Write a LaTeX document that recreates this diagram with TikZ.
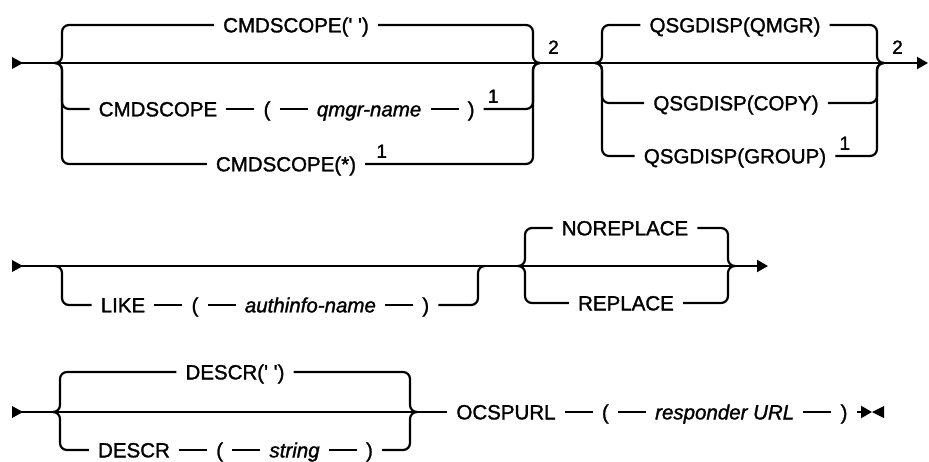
\documentclass[tikz,border=0pt]{standalone}
\usepackage{fontspec}
\setmainfont{Liberation Sans}
\newfontfamily\railfont{Liberation Sans}[UprightFeatures={FakeBold=1.4},ItalicFeatures={FakeBold=1.4}]
\usetikzlibrary{arrows.meta,positioning}
\newcommand\kwfont{\railfont\fontsize{20.5}{23}\selectfont}
\newcommand\notefont{\railfont\fontsize{19}{21}\selectfont}
\newcommand\blankq{(\textquotesingle\ \textquotesingle)}
\tikzset{
  rail/.style={line width=2.2pt,rounded corners=7pt},
  railend/.style={line width=2.2pt,-{Triangle[length=11pt,width=12pt]}},
  kw/.style={font=\kwfont,text height=14.7pt,text depth=0pt,inner ysep=0pt,inner xsep=9pt},
  var/.style={kw,font=\kwfont\itshape},
  note/.style={font=\notefont,inner sep=1pt,anchor=south west},
  pics/railstart/.style={code={\fill (0,-6) -- (11,0) -- (0,6) -- cycle;}},
  pics/railstop/.style={code={\fill (0,0) -- (12,-6) -- (12,6) -- cycle;}},
}

\begin{document}
\begin{tikzpicture}[x=1pt,y=-1pt,node distance=28pt]
  \useasboundingbox (0,0) rectangle (929,461);

  % row 1: CMDSCOPE and QSGDISP
  \coordinate (r1s) at (12,63);
  \coordinate (r1a) at (62,63);
  \coordinate (r1b) at (533,63);
  \coordinate (r1c) at (602,63);
  \coordinate (r1d) at (877,63);
  \coordinate (r1e) at (928,63);
  \pic at (r1s) {railstart};
  \draw[railend] (r1s) -- (r1e);

  \node[kw] (cs1) at (296,25) {CMDSCOPE\blankq};
  \node[kw] (cs2) at (158,109) {CMDSCOPE};
  \node[kw,right=of cs2] (lp1) {(};
  \node[var,right=of lp1] (qmn) {qmgr-name};
  \node[kw,right=of qmn] (rp1) {)};
  \node[kw] (cs3) at (286,164) {CMDSCOPE(*)};
  \node[note] (n1a) at ([xshift=3pt,yshift=5pt]rp1.east) {1};
  \node[note] (n1b) at ([xshift=10pt,yshift=5pt]cs3.east) {1};
  \node[note] (n2a) at ([xshift=14pt,yshift=8pt]r1b) {2};

  \draw[rail] ([xshift=-7pt]r1a) -- (r1a) |- (cs1.west);
  \draw[rail] ([xshift=-7pt]r1a) -- (r1a) |- (cs2.west);
  \draw[rail] ([xshift=-7pt]r1a) -- (r1a) |- (cs3.west);
  \draw[rail] (cs2) -- (lp1) -- (qmn) -- (rp1);
  \draw[rail] (cs1.east) -| (r1b) -- ([xshift=7pt]r1b);
  \draw[rail] (rp1.east) -| (r1b) -- ([xshift=7pt]r1b);
  \draw[rail] (cs3.east) -| (r1b) -- ([xshift=7pt]r1b);

  \node[kw] (qs1) at (735,25) {QSGDISP(QMGR)};
  \node[kw] (qs2) at (736,103) {QSGDISP(COPY)};
  \node[kw] (qs3) at (735,156) {QSGDISP(GROUP)};
  \node[note] (n1c) at ([xshift=3pt,yshift=5pt]qs3.east) {1};
  \node[note] (n2b) at ([xshift=14pt,yshift=8pt]r1d) {2};

  \foreach \q in {qs1,qs2,qs3}{
    \draw[rail] ([xshift=-7pt]r1c) -- (r1c) |- (\q.west);
    \draw[rail] (\q.east) -| (r1d) -- ([xshift=7pt]r1d);
  }

  % row 2: LIKE and REPLACE
  \coordinate (r2s) at (12,266);
  \coordinate (r2a) at (62,266);
  \coordinate (r2b) at (478,266);
  \coordinate (r2c) at (525,266);
  \coordinate (r2d) at (728,266);
  \coordinate (r2e) at (768,266);
  \pic at (r2s) {railstart};
  \draw[railend] (r2s) -- (r2e);

  \node[kw] (like) at (123,305) {LIKE};
  \node[kw,right=of like] (lp2) {(};
  \node[var,right=of lp2] (ain) {authinfo-name};
  \node[kw,right=of ain] (rp2) {)};
  \draw[rail] ([xshift=-7pt]r2a) -- (r2a) |- (like.west);
  \draw[rail] (like) -- (lp2) -- (ain) -- (rp2);
  \draw[rail] (rp2.east) -| (r2b) -- ([xshift=7pt]r2b);

  \node[kw] (norep) at (625,228) {NOREPLACE};
  \node[kw] (rep) at (626,303) {REPLACE};
  \foreach \q in {norep,rep}{
    \draw[rail] ([xshift=-7pt]r2c) -- (r2c) |- (\q.west);
    \draw[rail] (\q.east) -| (r2d) -- ([xshift=7pt]r2d);
  }

  % row 3: DESCR and OCSPURL
  \coordinate (r3s) at (12,412);
  \coordinate (r3a) at (60,412);
  \coordinate (r3b) at (410,412);
  \coordinate (r3e) at (872,412);
  \pic at (r3s) {railstart};

  \node[kw] (ds1) at (235,372) {DESCR\blankq};
  \node[kw] (ds2) at (134,450) {DESCR};
  \node[kw,right=of ds2] (lp3) {(};
  \node[var,right=of lp3] (str) {string};
  \node[kw,right=of str] (rp3) {)};
  \node[kw] (ocsp) at (506,412) {OCSPURL};
  \node[kw,right=of ocsp] (lp4) {(};
  \node[var,right=of lp4] (rurl) {responder URL};
  \node[kw,right=of rurl] (rp4) {)};

  \draw[rail] (r3s) -- (ocsp.west);
  \draw[rail] ([xshift=-7pt]r3a) -- (r3a) |- (ds1.west);
  \draw[rail] ([xshift=-7pt]r3a) -- (r3a) |- (ds2.west);
  \draw[rail] (ds2) -- (lp3) -- (str) -- (rp3);
  \draw[rail] (ds1.east) -| (r3b) -- ([xshift=7pt]r3b);
  \draw[rail] (rp3.east) -| (r3b) -- ([xshift=7pt]r3b);
  \draw[rail] (ocsp) -- (lp4) -- (rurl) -- (rp4);
  \draw[railend] (rp4.east) -- (r3e);
  \pic at (r3e) {railstop};
\end{tikzpicture}
\end{document}
